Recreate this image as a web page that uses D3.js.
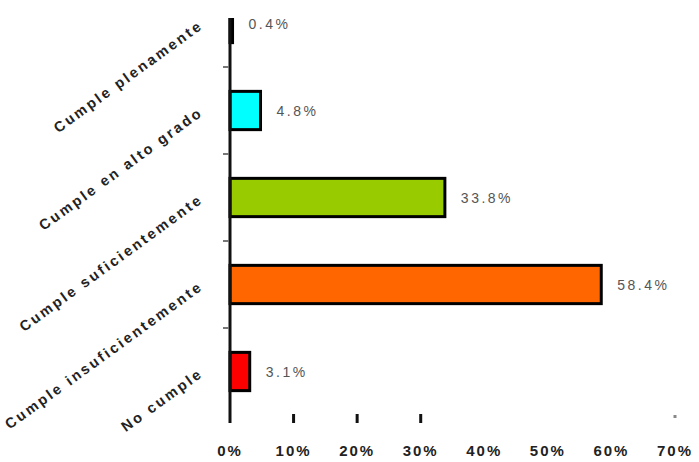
<!DOCTYPE html>
<html>
<head>
<meta charset="utf-8">
<script src="https://cdn.jsdelivr.net/npm/d3@7/dist/d3.min.js"></script>
<style>
html,body{margin:0;padding:0;background:#fff;}
svg{display:block;}
</style>
</head>
<body>
<svg id="chart" width="699" height="462"></svg>
<script>
const categories = ["Cumple plenamente", "Cumple en alto grado", "Cumple suficientemente", "Cumple insuficientemente", "No cumple"];
const values = [0.4, 4.8, 33.8, 58.4, 3.1];
const valueLabels = ["0.4%", "4.8%", "33.8%", "58.4%", "3.1%"];
const colors = ["#111111", "#00FFFF", "#99CC00", "#FF6600", "#FF0000"];
const xTicks = [0, 10, 20, 30, 40, 50, 60, 70];
const xTickLabels = ["0%", "10%", "20%", "30%", "40%", "50%", "60%", "70%"];

const svg = d3.select("#chart");
const x = d3.scaleLinear().domain([0, 70]).range([230, 675]);
const y = d3.scaleBand().domain(categories).range([-20, 415]).paddingInner(0.56).paddingOuter(0.28);

const clip = svg.append("defs").append("clipPath").attr("id", "plotclip");
clip.append("rect").attr("x", 0).attr("y", 18).attr("width", 699).attr("height", 444);

const plot = svg.append("g").attr("clip-path", "url(#plotclip)");

// bars
plot.selectAll("rect.bar").data(categories).join("rect")
  .attr("class", "bar")
  .attr("x", x(0))
  .attr("y", d => y(d))
  .attr("width", (d, i) => x(values[i]) - x(0))
  .attr("height", y.bandwidth())
  .attr("fill", (d, i) => colors[i])
  .attr("stroke", "#000")
  .attr("stroke-width", 3);

// y axis line
svg.append("line").attr("x1", 230).attr("x2", 230).attr("y1", 18).attr("y2", 423)
  .attr("stroke", "#111").attr("stroke-width", 3);

// y ticks at band boundaries
const bounds = categories.slice(1).map(c => y(c) - y.step() * y.paddingInner() / 2);
svg.selectAll("line.yt").data(bounds).join("line")
  .attr("class", "yt")
  .attr("x1", 223).attr("x2", 229)
  .attr("y1", d => d).attr("y2", d => d)
  .attr("stroke", "#777").attr("stroke-width", 2);

// x ticks
svg.selectAll("line.xt").data(xTicks.slice(1)).join("line")
  .attr("class", "xt")
  .attr("x1", d => x(d)).attr("x2", d => x(d))
  .attr("y1", d => d === 70 ? 415 : 414)
  .attr("y2", d => d === 70 ? 418 : 423)
  .attr("stroke", d => d === 70 ? "#888" : "#111")
  .attr("stroke-width", 3)
  .attr("opacity", d => (d >= 40 && d <= 60) ? 0 : 1);

// x tick labels
svg.selectAll("text.xl").data(xTicks).join("text")
  .attr("class", "xl")
  .attr("x", d => x(d))
  .attr("y", 456)
  .attr("text-anchor", "middle")
  .attr("font-family", "Liberation Sans, Arial, sans-serif")
  .attr("font-weight", "bold")
  .attr("font-size", 15)
  .attr("letter-spacing", 2)
  .attr("fill", "#222")
  .text((d, i) => xTickLabels[i]);

// category labels
svg.selectAll("text.cl").data(categories).join("text")
  .attr("class", "cl")
  .attr("transform", d => `translate(204,${y(d) + y.bandwidth() / 2 + 4}) rotate(-36)`)
  .attr("text-anchor", "end")
  .attr("font-family", "Liberation Sans, Arial, sans-serif")
  .attr("font-weight", "bold")
  .attr("font-size", 14.5)
  .attr("letter-spacing", 2.5)
  .attr("fill", "#222")
  .text(d => d);

// value labels
svg.selectAll("text.vl").data(categories).join("text")
  .attr("class", "vl")
  .attr("x", (d, i) => x(values[i]) + 16)
  .attr("y", d => Math.max(y(d) + y.bandwidth() / 2 + 5, 29))
  .attr("font-family", "Liberation Sans, Arial, sans-serif")
  .attr("font-size", 14)
  .attr("letter-spacing", 2.5)
  .attr("fill", "#555")
  .text((d, i) => valueLabels[i]);
</script>
</body>
</html>
